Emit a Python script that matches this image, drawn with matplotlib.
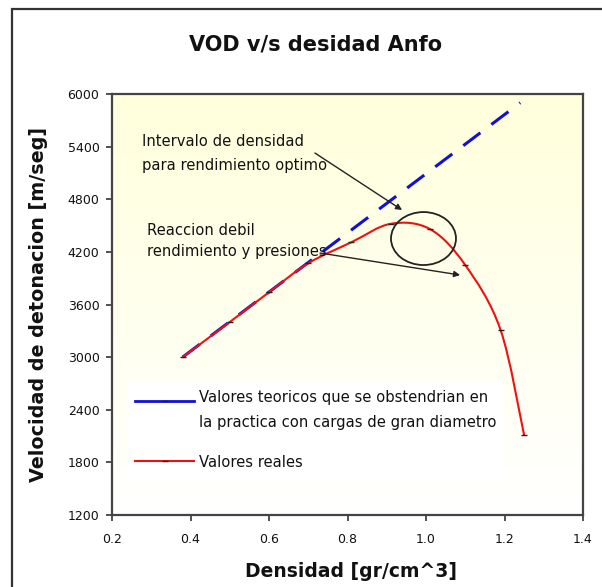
import numpy as np
import matplotlib
matplotlib.use("Agg")
import matplotlib.pyplot as plt
from matplotlib.path import Path
from matplotlib.patches import PathPatch, Ellipse, Rectangle
from matplotlib.lines import Line2D
from matplotlib.legend_handler import HandlerLine2D

# ---- data ----
teo_x = [0.38, 1.24]
teo_y = [3000, 5900]

real_x = [0.38, 0.50, 0.60, 0.70, 0.81, 0.91, 1.01, 1.10, 1.19, 1.25]
real_y = [3000, 3400, 3740, 4070, 4310, 4520, 4460, 4050, 3310, 2110]

x_ticks = [0.2, 0.4, 0.6, 0.8, 1.0, 1.2, 1.4]
x_tick_labels = ["0.2", "0.4", "0.6", "0.8", "1.0", "1.2", "1.4"]
y_ticks = [1200, 1800, 2400, 3000, 3600, 4200, 4800, 5400, 6000]
y_tick_labels = [str(v) for v in y_ticks]

title = "VOD v/s desidad Anfo"
xlabel = "Densidad [gr/cm^3]"
ylabel = "Velocidad de detonacion [m/seg]"
label_teo = "Valores teoricos que se obstendrian en\nla practica con cargas de gran diametro"
label_real = "Valores reales"
note1 = "Intervalo de densidad\npara rendimiento optimo"
note2 = "Reaccion debil\nrendimiento y presiones"

BLUE = "#1010D8"
RED = "#F01010"

plt.rcParams['font.family'] = ['DejaVu Sans']


class ShiftedHandler(HandlerLine2D):
    """Line handler that places the sample next to the first text line."""
    def __init__(self, shift, **kw):
        super().__init__(**kw)
        self.shift = shift

    def create_artists(self, legend, orig_handle, xdescent, ydescent,
                       width, height, fontsize, trans):
        return super().create_artists(legend, orig_handle, xdescent, ydescent - self.shift,
                                      width, height, fontsize, trans)


fig = plt.figure(figsize=(6.02, 5.87), dpi=100)
ax = fig.add_axes([112/602, 1-515/587, 471/602, 421/587])

# outer frame
fig.patches.append(Rectangle((12/602, -0.02), 1.05, 1-9/587+0.02, transform=fig.transFigure,
                             fill=False, edgecolor="#333333", linewidth=1.6, zorder=0))

# gradient background
grad = np.linspace(0, 1, 256).reshape(-1, 1)
top = np.array([255, 255, 220]) / 255.0
bot = np.array([255, 255, 255]) / 255.0
img = top[None, None, :] * (1 - grad[:, :, None]) + bot[None, None, :] * grad[:, :, None]
ax.imshow(img, extent=[0, 1, 0, 1], transform=ax.transAxes, aspect='auto', zorder=0)

# theoretical line
ax.plot(teo_x, teo_y, color=BLUE, linewidth=2.2, dashes=(7, 4.5), zorder=3)

# smooth real curve (Catmull-Rom rendered as cubic Bezier path)
P = np.column_stack([real_x, real_y]).astype(float)
n = len(P)
verts = [P[0]]
codes = [Path.MOVETO]
for i in range(n - 1):
    p0 = P[i - 1] if i > 0 else P[i]
    p1 = P[i]
    p2 = P[i + 1]
    p3 = P[i + 2] if i + 2 < n else P[i + 1]
    c1 = p1 + (p2 - p0) / 6.0
    c2 = p2 - (p3 - p1) / 6.0
    verts += [c1, c2, p2]
    codes += [Path.CURVE4] * 3
ax.add_patch(PathPatch(Path(verts, codes), facecolor='none', edgecolor=RED,
                       linewidth=1.5, transform=ax.transData, zorder=4))
ax.plot(real_x, real_y, linestyle='none', marker='_', markersize=4,
        markeredgecolor='#222222', markeredgewidth=1.0, zorder=5)

ax.set_xlim(0.2, 1.4)
ax.set_ylim(1200, 6000)
ax.set_xticks(x_ticks)
ax.set_xticklabels(x_tick_labels)
ax.set_yticks(y_ticks)
ax.set_yticklabels(y_tick_labels)
ax.tick_params(axis='both', direction='out', length=4, width=1.2, color='#333333',
               labelsize=9, labelcolor='#111111')
ax.tick_params(axis='x', pad=9)
ax.tick_params(axis='y', pad=5)
for s in ax.spines.values():
    s.set_color('#444444')
    s.set_linewidth(1.6)

ax.set_xlabel(xlabel, fontsize=13.5, fontweight='bold', color='#111111')
ax.xaxis.label.set_va('center')
ax.xaxis.set_label_coords(0.507, -0.135)
ax.set_ylabel(ylabel, fontsize=13.8, fontweight='bold', color='#111111')
ax.yaxis.label.set_va('center')
ax.yaxis.set_label_coords(-0.157, 0.5)

fig.text(316/602, 1-45/587, title, ha='center', va='center', fontsize=15,
         fontweight='bold', color='#111111')

# annotations
ax.text(0.2764, 5322, note1, ha='left', va='center', fontsize=10.6, linespacing=1.7,
        color='#111111', zorder=6)
ax.text(0.289, 4324, note2, ha='left', va='center', fontsize=10.6, linespacing=1.5,
        color='#111111', zorder=6)
ax.annotate('', xy=(0.939, 4677), xytext=(0.717, 5327),
            arrowprops=dict(arrowstyle='-|>', color='#222222', lw=1.0,
                            mutation_scale=9, shrinkA=0, shrinkB=0), zorder=6)
ax.annotate('', xy=(1.087, 3936), xytext=(0.73, 4187),
            arrowprops=dict(arrowstyle='-|>', color='#222222', lw=1.0,
                            mutation_scale=9, shrinkA=0, shrinkB=0), zorder=6)
ax.add_patch(Ellipse((0.9936, 4352), 0.1656, 604, fill=False, edgecolor='#222222',
                     linewidth=1.3, zorder=6))

# legend
h1 = Line2D([], [], color=BLUE, linewidth=2.0, marker='_', markersize=4,
            markeredgecolor='#222222')
h2 = Line2D([], [], color=RED, linewidth=1.5, marker='_', markersize=4,
            markeredgecolor='#222222')
leg = ax.legend([h1, h2], [label_teo, label_real], loc='upper left',
                bbox_to_anchor=(0.034, 0.315), frameon=True, fancybox=False,
                facecolor='white', edgecolor='none', framealpha=1.0,
                fontsize=10.6, handlelength=4.0, handletextpad=0.35,
                labelspacing=1.7, borderaxespad=0.0, borderpad=0.5,
                handler_map={h1: ShiftedHandler(13.5)})
for t in leg.get_texts():
    t.set_linespacing(1.82)
    t.set_color('#111111')

fig.savefig("out.png", dpi=100)
